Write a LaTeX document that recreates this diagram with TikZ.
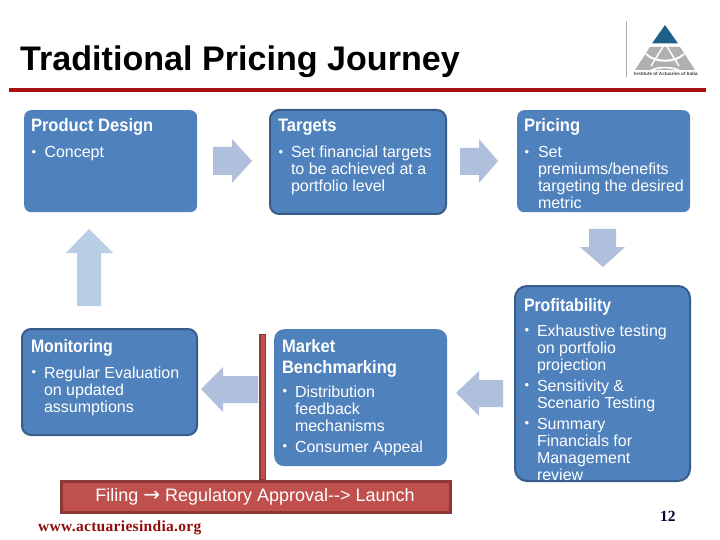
\documentclass[tikz,border=0pt]{standalone}
\usepackage{fontspec}
\setmainfont{Liberation Sans}
\newfontfamily\serifbold[Scale=1]{Liberation Serif}
\newfontfamily\headfont[FakeStretch=0.92]{Liberation Sans Bold}
\newfontfamily\headfontn[FakeStretch=0.88]{Liberation Sans Bold}
\newfontfamily\arrowfont{DejaVu Sans}
\definecolor{boxblue}{HTML}{4F81BD}
\definecolor{boxedge}{HTML}{385D8A}
\definecolor{arrowblue}{HTML}{B0BFDC}
\definecolor{arrowup}{HTML}{B9CDE5}
\definecolor{redfill}{HTML}{C0504D}
\definecolor{rededge}{HTML}{8C3836}
\definecolor{barred}{HTML}{A90F0F}
\definecolor{logoblue}{HTML}{1F6089}
\definecolor{logogrey}{HTML}{B0B0B0}
\tikzset{
  plainbox/.style={fill=boxblue,draw=none,rounded corners=7pt},
  edgebox/.style={fill=boxblue,draw=boxedge,line width=2pt,rounded corners=9pt},
  flowarrow/.style={fill=arrowblue,draw=none},
  head/.style={anchor=base west,text=white,font=\headfont\fontsize{18}{20}\selectfont,inner sep=0pt,outer sep=0pt},
  headnarrow/.style={head,font=\headfontn\fontsize{18}{20}\selectfont},
  bodyline/.style={anchor=base west,text=white,font=\fontsize{16}{18}\selectfont,inner sep=0pt,outer sep=0pt},
  bulletmark/.style={anchor=base west,text=white,font=\fontsize{13}{14}\selectfont,inner sep=0pt,outer sep=0pt,xshift=0.6pt,yshift=1.2pt},
}
\begin{document}
\begin{tikzpicture}[x=1pt,y=-1pt]
\useasboundingbox (0,0) rectangle (720,540);
\fill[white] (0,0) rectangle (720,540);
% title
\node[anchor=base west,inner sep=0pt,font=\fontsize{34.1}{36}\selectfont\bfseries] (title) at (20,71) {Traditional Pricing Journey};
\fill[barred] (9,88) rectangle (706,92);
% logo
\draw[logogrey,line width=0.8pt] (626.5,21) -- (626.5,77);
\fill[logoblue] (665,25) -- (678,43.5) -- (652,43.5) -- cycle;
\fill[logogrey] (650,47) -- (680,47) -- (695,70) -- (635,70) -- cycle;
\draw[white,line width=1.5pt] (664,45) -- (651,66) (666,45) -- (679,66);
\draw[white,line width=2pt] (646,54) .. controls (655,63) and (675,63) .. (684,54);
\draw[white,line width=1.5pt] (650,71) .. controls (656,66.5) and (674,66.5) .. (680,71);
\node[anchor=base west,inner sep=0pt,text=black!75,font=\fontsize{4.6}{5}\selectfont\bfseries] (logotext) at (634,76) {Institute of Actuaries of India};
% stem
\fill[redfill,draw=rededge,line width=1.5pt] (260,334.5) rectangle (265.5,480);
% boxes
\node[plainbox,minimum width=173pt,minimum height=102pt,inner sep=0pt,anchor=north west] (design) at (24,110) {};
\node[edgebox,minimum width=176pt,minimum height=104pt,inner sep=0pt,anchor=north west] (targets) at (269,109) {};
\node[plainbox,minimum width=173pt,minimum height=102pt,inner sep=0pt,anchor=north west] (pricing) at (517,110) {};
\node[edgebox,rounded corners=12pt,minimum width=175pt,minimum height=195pt,inner sep=0pt,anchor=north west] (profit) at (514,285) {};
\node[plainbox,rounded corners=10pt,minimum width=173pt,minimum height=137pt,inner sep=0pt,anchor=north west] (market) at (274,329) {};
\node[edgebox,minimum width=175pt,minimum height=106pt,inner sep=0pt,anchor=north west] (monitor) at (21,328) {};
% arrows
\path[flowarrow,fill] (213,147) -- (232,147) -- (232,139) -- (252,161) -- (232,183) -- (232,175) -- (213,175) -- cycle;
\path[flowarrow,fill] (460,148) -- (479,148) -- (479,139) -- (498,161) -- (479,183) -- (479,175) -- (460,175) -- cycle;
\path[flowarrow,fill] (589,229) -- (616,229) -- (616,247) -- (625,247) -- (603,267) -- (580,247) -- (589,247) -- cycle;
\path[flowarrow,fill] (503,380) -- (479,380) -- (479,371) -- (456,393) -- (479,416) -- (479,407) -- (503,407) -- cycle;
\path[flowarrow,fill] (258,376) -- (223,376) -- (223,367) -- (201,389) -- (223,412) -- (223,403) -- (258,403) -- cycle;
\path[fill=arrowup] (77,306) -- (77,253) -- (66,253) -- (89,229) -- (113,253) -- (101,253) -- (101,306) -- cycle;
% red banner
\node[fill=redfill,draw=rededge,line width=2.5pt,minimum width=389pt,minimum height=31pt,inner sep=0pt,anchor=north west] (banner) at (60,480) {};
\node[anchor=base,text=white,inner sep=0pt,font=\fontsize{18}{20}\selectfont] (bannertext) at (255,501.5) {Filing {\arrowfont\fontsize{20}{20}\selectfont →} Regulatory Approval-{}-{}> Launch};
% Product design
\node[head] (h1) at (31,132) {Product Design};
\node[bulletmark] (b1) at (31,157.5) {\textbullet};
\node[bodyline] (t1) at (44.5,157.5) {Concept};
% Targets
\node[head] (h2) at (278,132) {Targets};
\node[bulletmark] (b2) at (278,157.5) {\textbullet};
\node[bodyline] (t2a) at (291,157.5) {Set financial targets};
\node[bodyline] (t2b) at (291,174.5) {to be achieved at a};
\node[bodyline] (t2c) at (291,191.5) {portfolio level};
% Pricing
\node[head] (h3) at (524,132) {Pricing};
\node[bulletmark] (b3) at (524,157.5) {\textbullet};
\node[bodyline] (t3a) at (538,157.5) {Set};
\node[bodyline] (t3b) at (538,174.5) {premiums/benefits};
\node[bodyline] (t3c) at (538,191.5) {targeting the desired};
\node[bodyline] (t3d) at (538,208.5) {metric};
% Profitability
\node[headnarrow] (h4) at (524,311) {Profitability};
\node[bulletmark] (b4a) at (524,336) {\textbullet};
\node[bodyline] (t4a) at (537,336) {Exhaustive testing};
\node[bodyline] (t4b) at (537,353) {on portfolio};
\node[bodyline] (t4c) at (537,370) {projection};
\node[bulletmark] (b4b) at (524,391) {\textbullet};
\node[bodyline] (t4d) at (537,391) {Sensitivity \&};
\node[bodyline] (t4e) at (537,408) {Scenario Testing};
\node[bulletmark] (b4c) at (524,429) {\textbullet};
\node[bodyline] (t4f) at (537,429) {Summary};
\node[bodyline] (t4g) at (537,446) {Financials for};
\node[bodyline] (t4h) at (537,463) {Management};
\node[bodyline] (t4i) at (537,480) {review};
% Market
\node[head] (h5a) at (282,352) {Market};
\node[head] (h5b) at (282,373) {Benchmarking};
\node[bulletmark] (b5a) at (282,397) {\textbullet};
\node[bodyline] (t5a) at (295,397) {Distribution};
\node[bodyline] (t5b) at (295,414) {feedback};
\node[bodyline] (t5c) at (295,431) {mechanisms};
\node[bulletmark] (b5b) at (282,452) {\textbullet};
\node[bodyline] (t5d) at (295,452) {Consumer Appeal};
% Monitoring
\node[headnarrow] (h6) at (31,352) {Monitoring};
\node[bulletmark] (b6) at (31,378) {\textbullet};
\node[bodyline] (t6a) at (44,378) {Regular Evaluation};
\node[bodyline] (t6b) at (44,395) {on updated};
\node[bodyline] (t6c) at (44,412) {assumptions};
% footer
\node[anchor=base west,inner sep=0pt,text=barred!85!black,font=\serifbold\fontsize{15.5}{18}\selectfont\bfseries\addfontfeatures{LetterSpace=2}] (www) at (38,531) {www.actuariesindia.org};
\node[anchor=base west,inner sep=0pt,text=black!80!blue,font=\serifbold\fontsize{15.5}{18}\selectfont\bfseries] (page) at (660,521) {12};
\end{tikzpicture}
\end{document}
